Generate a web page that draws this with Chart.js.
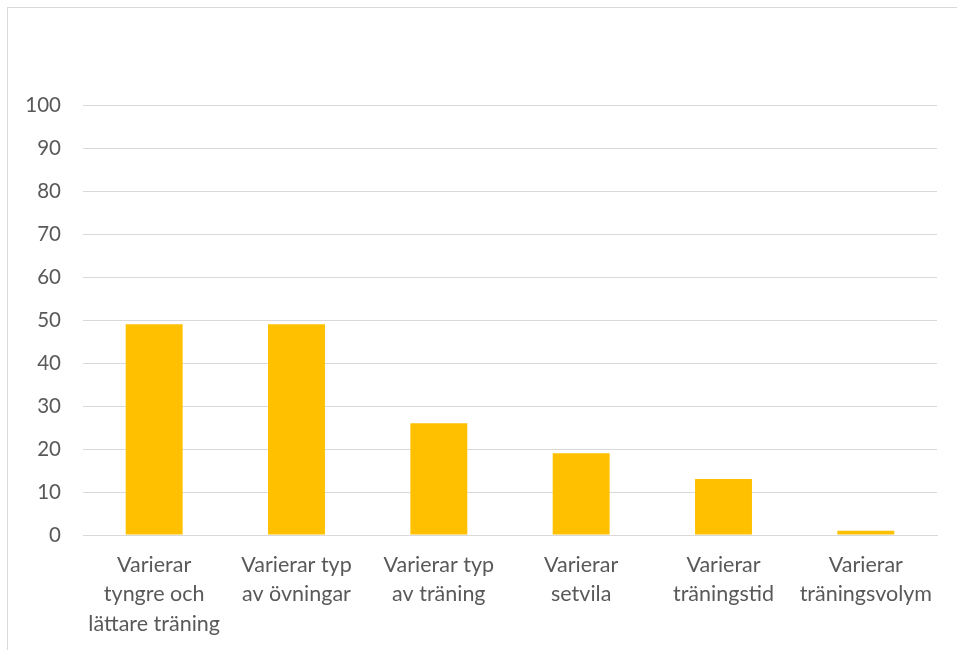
<!DOCTYPE html>
<html>
<head>
<meta charset="utf-8">
<script src="https://cdn.jsdelivr.net/npm/chart.js@4/dist/chart.umd.min.js"></script>
<style>
  body { margin: 0; background: #fff; }
  #ram { position: absolute; left: 7px; top: 7px; width: 1000px; height: 700px; border: 1px solid #d9d9d9; box-sizing: border-box; }
  #wrap { position: absolute; left: 0; top: 0; width: 957px; height: 650px; }
</style>
</head>
<body>
<div id="ram"></div>
<div id="wrap"><canvas id="plot"></canvas></div>
<script>
// kategorier och andelar (%)
const kategorier = [
  ['Varierar', 'tyngre och', 'lättare träning'],
  ['Varierar typ', 'av övningar'],
  ['Varierar typ', 'av träning'],
  ['Varierar', 'setvila'],
  ['Varierar', 'träningstid'],
  ['Varierar', 'träningsvolym']
];
const andelar = [49, 49, 26, 19, 13, 1];
const yMin = 0, yMax = 100, ySteg = 10;

let textFarg = '#595959';
let linjeFarg = '#d9d9d9';
let typsnitt = 'Lato, "Open Sans", sans-serif';

let plotRef = document.getElementById('plot');
let config = {
  type: 'bar',
  data: {
    labels: kategorier,
    datasets: [{
      data: andelar,
      backgroundColor: '#ffc000',
      categoryPercentage: 0.4,
      barPercentage: 1
    }]
  },
  options: {
    responsive: true,
    maintainAspectRatio: false,
    animation: false,
    layout: { padding: { left: 0, top: 105, right: 20, bottom: 0 } },
    plugins: { legend: { display: false }, tooltip: { enabled: false } },
    scales: {
      x: {
        grid: { display: false, drawTicks: false },
        border: { color: linjeFarg, width: 1 },
        ticks: { color: textFarg, font: { family: typsnitt, size: 21.5, lineHeight: 1.35 }, padding: 16, maxRotation: 0, autoSkip: false },
        afterFit: axis => { axis.height = 115; }
      },
      y: {
        min: yMin,
        max: yMax,
        ticks: { stepSize: ySteg, color: textFarg, font: { family: typsnitt, size: 20.5 }, padding: 22 },
        grid: { color: linjeFarg, lineWidth: 1, drawTicks: false },
        border: { display: false },
        afterFit: axis => { axis.width = 83; }
      }
    }
  }
};
let chart1 = new Chart(plotRef, config);
</script>
</body>
</html>
